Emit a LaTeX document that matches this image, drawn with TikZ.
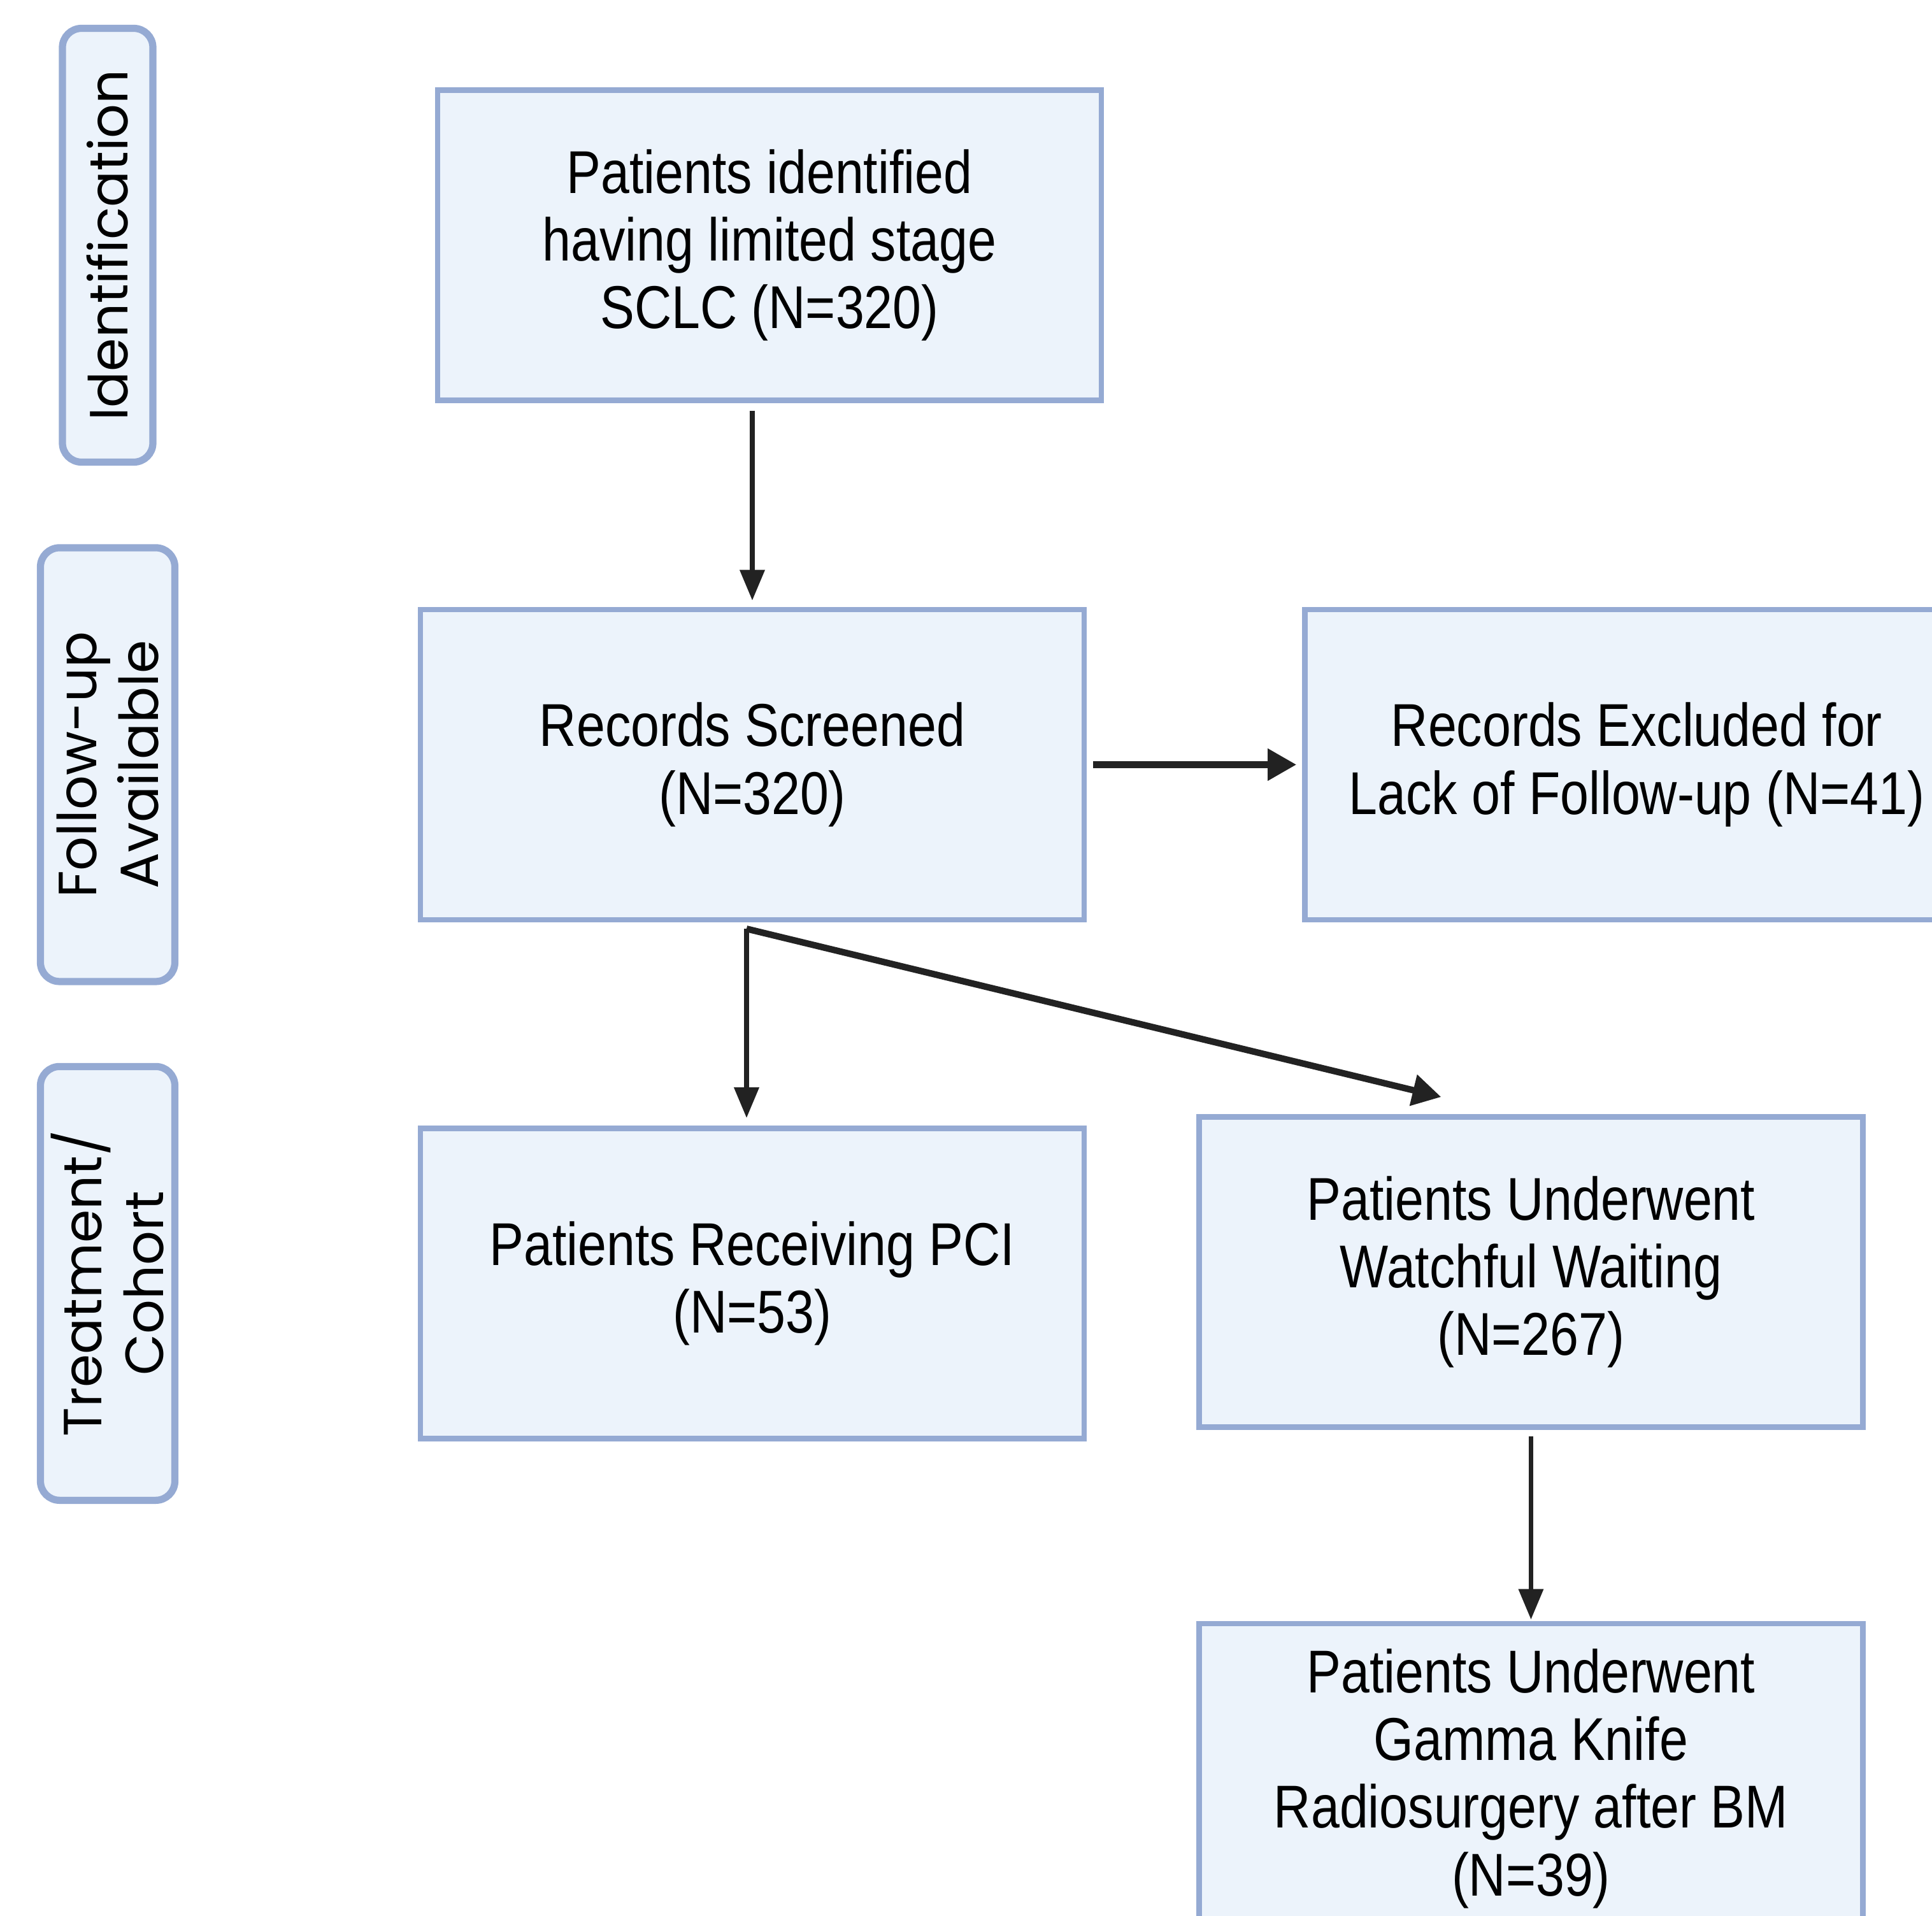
\documentclass[tikz,border=0pt]{standalone}
\usepackage{fontspec}
\usepackage{xcolor}
\usepackage{tikz}
\usetikzlibrary{arrows.meta}
\usetikzlibrary{positioning}
\newfontfamily\boxfont[FakeStretch=0.85]{Liberation Sans}
\newfontfamily\phasefont{Poppins}
\definecolor{lineblue}{HTML}{95AAD3}
\definecolor{fillblue}{HTML}{ECF3FB}
\definecolor{arrowgray}{HTML}{222222}
\tikzstyle{block} = [draw=lineblue, fill=fillblue,
	line width=2.4pt,
	minimum width = 10.42cm,
	minimum height = 4.87cm,
	align=center,
	font=\boxfont\fontsize{27}{30.2}\selectfont]
\tikzstyle{phase} = [draw=lineblue, fill=fillblue,
	line width=3.2pt, rounded corners=0.3cm,
	rotate=90, align=center,
	minimum width = 6.81cm,
	font=\phasefont\fontsize{24}{27.6}\selectfont]
\tikzstyle{arrow} =[-{Triangle[length=0.48cm, width=0.38cm]}, line width=2pt, draw=arrowgray]
\tikzstyle{thickarrow} =[-{Triangle[length=0.45cm, width=0.48cm]}, line width=2.9pt, draw=arrowgray]

\begin{document}
\begin{tikzpicture}
	\useasboundingbox (0,0) rectangle (30.33,-30.08);
	\node (ident) [block] at (12.08,-3.85) {Patients identified\\having limited stage\\SCLC (N=320)};
	\node (screened) [block, below=3.2cm of ident, xshift=-0.27cm] {Records Screened\\(N=320)};
	\node (excluded) [block, right=3.38cm of screened] {Records Excluded for\\Lack of Follow-up (N=41)};
	\node (pci) [block, below=3.19cm of screened] {Patients Receiving PCI\\(N=53)};
	\node (watch) [block, right=1.72cm of pci, yshift=0.18cm] {Patients Underwent\\Watchful Waiting\\(N=267)};
	\node (gamma) [block, below=3.0cm of watch] {Patients Underwent\\Gamma Knife\\Radiosurgery after BM\\(N=39)};
	
	\coordinate (lane) at (1.69,0);
	\node (lident) [phase, minimum height=1.42cm] at (ident -| lane) {Identification};
	\node (lfollow) [phase, minimum height=2.11cm] at (screened -| lane) {Follow-up\\Available};
	\node (ltreat) [phase, minimum height=2.11cm] at (pci -| lane) {Treatment/\\Cohort};
	
	\coordinate (split) at ([xshift=-0.09cm, yshift=-0.1cm]screened.south);
	\draw [arrow, shorten <=0.12cm, shorten >=0.1cm] (ident.south -| screened) -- (screened.north);
	\draw [thickarrow, shorten <=0.1cm, shorten >=0.09cm] (screened) -- (excluded);
	\draw [arrow, shorten >=0.12cm] (split) -- (split |- pci.north);
	\draw [thickarrow] (split) -- ([xshift=-1.41cm, yshift=0.27cm]watch.north);
	\draw [arrow, shorten <=0.1cm, shorten >=0.02cm] (watch) -- (gamma);
\end{tikzpicture}
\end{document}
